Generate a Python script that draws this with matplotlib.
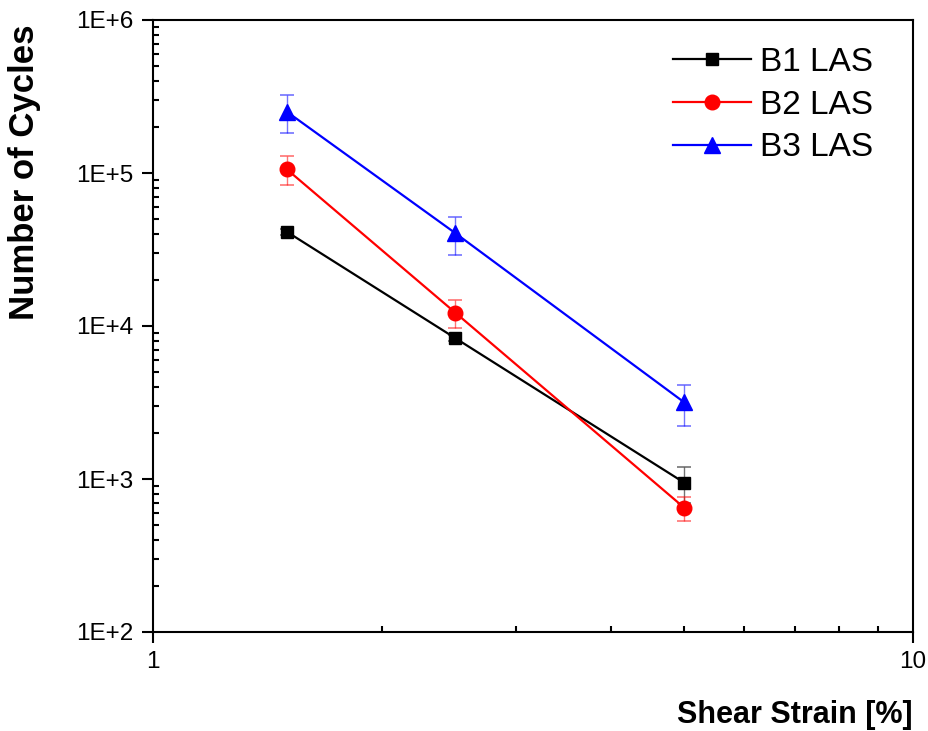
import numpy as np
import matplotlib
matplotlib.use('Agg')
import matplotlib.pyplot as plt
from matplotlib.ticker import LogLocator, FixedLocator, FixedFormatter, NullFormatter

plt.rcParams['font.family'] = ['Liberation Sans', 'DejaVu Sans']

strain = [1.5, 2.5, 5.0]

b1_cycles = [41300, 8320, 946]
b1_err = [2000, 400, 250]
b2_cycles = [105700, 12200, 649]
b2_err = [22500, 2500, 115]
b3_cycles = [251500, 40400, 3170]
b3_err = [70000, 11500, 960]

labels = ['B1 LAS', 'B2 LAS', 'B3 LAS']
colors = ['black', 'red', 'blue']
markers = ['s', 'o', '^']
msizes = [9, 10.5, 12]

ytick_vals = [1e2, 1e3, 1e4, 1e5, 1e6]
ytick_labels = ['1E+2', '1E+3', '1E+4', '1E+5', '1E+6']
xtick_vals = [1, 10]
xtick_labels = ['1', '10']

fig = plt.figure(figsize=(9.29, 7.31), dpi=100)
ax = fig.add_axes([153 / 929, 1 - 632 / 731, (913 - 153) / 929, (632 - 20) / 731])

series = [(b1_cycles, b1_err), (b2_cycles, b2_err), (b3_cycles, b3_err)]
for (y, e), lab, c, m, ms in zip(series, labels, colors, markers, msizes):
    ax.errorbar(strain, y, yerr=e, fmt='none', ecolor=c, elinewidth=1.0,
                capsize=5, capthick=1.2, alpha=0.55, zorder=2)
    ax.plot(strain, y, color=c, lw=1.6, marker=m, ms=ms, label=lab, zorder=3)

ax.set_xscale('log')
ax.set_yscale('log')
ax.set_xlim(1, 10)
ax.set_ylim(1e2, 1e6)

ax.xaxis.set_major_locator(FixedLocator(xtick_vals))
ax.xaxis.set_major_formatter(FixedFormatter(xtick_labels))
ax.yaxis.set_major_locator(FixedLocator(ytick_vals))
ax.yaxis.set_major_formatter(FixedFormatter(ytick_labels))
ax.xaxis.set_minor_locator(LogLocator(base=10, subs=np.arange(2, 10)))
ax.yaxis.set_minor_locator(LogLocator(base=10, subs=np.arange(2, 10)))
ax.xaxis.set_minor_formatter(NullFormatter())
ax.yaxis.set_minor_formatter(NullFormatter())

ax.tick_params(which='major', direction='out', length=8, width=1.5, labelsize=17.5, pad=6)
ax.tick_params(which='minor', direction='in', length=4, width=1.5)
for sp in ax.spines.values():
    sp.set_linewidth(1.5)

# legend placed so handles start near x=673 px, first row near y=59 px
leg = ax.legend(loc='upper left', frameon=False, fontsize=24, handlelength=2.34,
                handletextpad=0.27, labelspacing=0.35, borderaxespad=0, borderpad=0,
                bbox_to_anchor=((673 - 153) / 760, (632 - 47) / 612))

fig.text(913 / 929, 1 - 723 / 731, 'Shear Strain [%]', ha='right', va='baseline',
         fontsize=22, fontweight='bold')
fig.text(25 / 929, 1 - 25 / 731, 'Number of Cycles', ha='center', va='top',
         rotation=90, fontsize=25, fontweight='bold')

plt.savefig('out.png', dpi=100)
